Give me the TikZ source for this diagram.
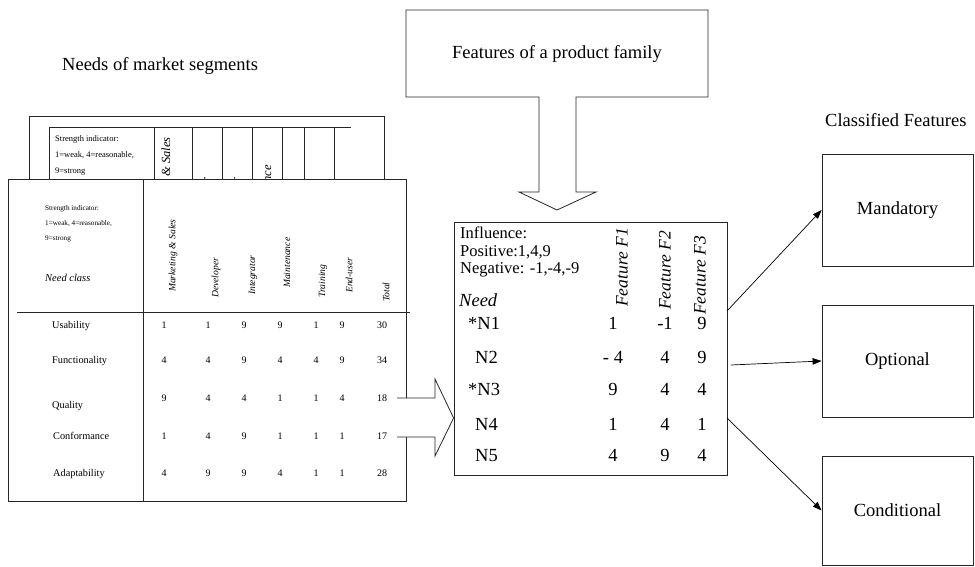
\documentclass[tikz,border=0pt]{standalone}
\usepackage{fontspec}
\setmainfont{Liberation Serif}
\usetikzlibrary{arrows.meta}
\newcommand\fz[1]{\fontsize{#1}{#1}\selectfont}
% one row of the needs table: row tag, y, seven values
\newcommand\needrow[9]{%
  \foreach \cx/\cv [count=\ci] in {164/#3,208/#4,244/#5,280/#6,316/#7,342/#8,382/#9}
    \node[num] (#1-\ci) at (\cx,#2) {\cv};}
% one row of the influence table: row tag, y, label, label x, three values
\newcommand\infrow[7]{%
  \node[big, anchor=west] (#1) at (#4,#2) {#3};
  \foreach \cx/\cv [count=\ci] in {613/#5,665/#6,702/#7}
    \node[big] (#1-\ci) at (\cx,#2) {\cv};}
\begin{document}
\begin{tikzpicture}[x=1pt,y=-1pt,
  ln/.style={draw=black!85, line width=0.8pt},
  tx/.style={inner sep=0pt, text height=0.66em, text depth=0pt},
  num/.style={tx, font=\fz{10}},
  rowlab/.style={tx, anchor=west, font=\fz{10.3}},
  vhead/.style={inner sep=0pt, rotate=90, anchor=west, font=\fz{9.6}\itshape},
  bhead/.style={inner sep=0pt, rotate=90, anchor=east, font=\fz{12.5}\itshape},
  big/.style={tx, font=\fz{18.5}},
  title/.style={inner sep=0pt, anchor=base west, font=\fz{18.5}},
  box/.style={ln, minimum width=151pt, minimum height=112pt, font=\fz{18.5}},
  link/.style={draw=black, line width=0.7pt, -{Triangle[length=9pt,width=6.5pt]}}]
\useasboundingbox (0,0) rectangle (975,567);

% ---- titles
\node[title] (tneeds) at (62,71) {Needs of market segments};
\node[title] (tclass) at (825,127) {Classified Features};

% ---- back sheet of the needs table
\draw[ln] (29,240) -- (29,116) -- (384,116) -- (384,240);
\draw[ln] (49,127) -- (351,127);
\foreach \gx in {49,154,192,222,252,282,304,334}
  \draw[ln] (\gx,127) -- (\gx,230);
\node[inner sep=0pt, anchor=west, font=\fz{8.5}] (bs1) at (55,139) {Strength indicator:};
\node[inner sep=0pt, anchor=west, font=\fz{8.5}] (bs2) at (55,155) {1=weak, 4=reasonable,};
\node[inner sep=0pt, anchor=west, font=\fz{8.5}] (bs3) at (55,172) {9=strong};
\node[bhead] (bh1) at (167,137) {Marketing \& Sales};
\node[bhead] (bh2) at (207,177.5) {Developer};
\node[bhead] (bh3) at (237,177.5) {Integrator};
\node[bhead] (bh4) at (267,165) {Maintenance};
\node[bhead] (bh5) at (293,188) {Training};
\node[bhead] (bh6) at (319,188) {End-user};

% ---- front sheet of the needs table
\filldraw[ln, fill=white] (8,179) rectangle (406,501);
\draw[ln] (143,179) -- (143,501);
\draw[ln] (17,312) -- (410,312);
\node[inner sep=0pt, anchor=west, font=\fz{7.2}] (fs1) at (45,209) {Strength indicator:};
\node[inner sep=0pt, anchor=west, font=\fz{7.2}] (fs2) at (45,224) {1=weak, 4=reasonable,};
\node[inner sep=0pt, anchor=west, font=\fz{7.2}] (fs3) at (45,239) {9=strong};
\node[inner sep=0pt, anchor=west, font=\fz{10.5}\itshape] (needclass) at (45,278) {Need class};
\node[vhead] (h1) at (173,292) {Marketing \& Sales};
\node[vhead] (h2) at (216,298) {Developer};
\node[vhead] (h3) at (253,295) {Integrator};
\node[vhead] (h4) at (287,288) {Maintenance};
\node[vhead] (h5) at (323,298) {Training};
\node[vhead] (h6) at (349,293) {End-user};
\node[vhead] (h7) at (386,302) {Total};

\node[rowlab] (usab) at (52,325) {Usability};
\needrow{u}{325}{1}{1}{9}{9}{1}{9}{30}
\node[rowlab] (func) at (52,360) {Functionality};
\needrow{f}{360}{4}{4}{9}{4}{4}{9}{34}
\node[rowlab] (qual) at (52,405) {Quality};
\needrow{q}{398}{9}{4}{4}{1}{1}{4}{18}
\node[rowlab] (conf) at (53,436) {Conformance};
\needrow{c}{436}{1}{4}{9}{1}{1}{1}{17}
\node[rowlab] (adap) at (53,473) {Adaptability};
\needrow{a}{473}{4}{9}{9}{4}{1}{1}{28}

% ---- influence table
\node[ln, minimum width=273pt, minimum height=253pt] (inf) at (590.5,348.5) {};
\node[inner sep=0pt, anchor=west, font=\fz{16.5}] (i1) at (460,233) {Influence:};
\node[inner sep=0pt, anchor=west, font=\fz{16.5}] (i2) at (460,252) {Positive:1,4,9};
\node[inner sep=0pt, anchor=west, font=\fz{16.5}] (i3) at (460,270) {Negative: -1,-4,-9};
\node[inner sep=0pt, anchor=west, font=\fz{18.5}\itshape] (ineed) at (459,300) {Need};
\node[inner sep=0pt, rotate=90, anchor=west, font=\fz{17.5}\itshape] (ff1) at (622,307) {Feature F1};
\node[inner sep=0pt, rotate=90, anchor=west, font=\fz{17.5}\itshape] (ff2) at (665,310) {Feature F2};
\node[inner sep=0pt, rotate=90, anchor=west, font=\fz{17.5}\itshape] (ff3) at (700,315) {Feature F3};
\infrow{n1}{326}{*N1}{468}{1}{-1}{9}
\infrow{n2}{360}{N2}{475}{- 4}{4}{9}
\infrow{n3}{392}{*N3}{468}{9}{4}{4}
\infrow{n4}{427}{N4}{475}{1}{4}{1}
\infrow{n5}{458}{N5}{475}{4}{9}{4}

% ---- product family box with its broad down arrow
\draw[ln, line join=miter] (406,10) -- (708,10) -- (708,97) -- (576,97) -- (576,192)
  -- (596,192) -- (557,210) -- (519,192) -- (539,192) -- (539,97) -- (406,97) -- cycle;
\node[title] (tfeat) at (452,59) {Features of a product family};

% ---- broad arrow from the needs table into the influence table
\fill[white] (397,398) -- (435,398) -- (435,379) -- (453,418) -- (435,456) -- (435,437) -- (397,437) -- cycle;
\draw[ln, line join=miter] (397,398) -- (435,398) -- (435,379) -- (inf.west |- 0,418)
  -- (435,456) -- (435,437) -- (397,437);

% ---- classes
\node[box] (mand) at (897.5,210) {Mandatory};
\node[box] (opt) at (897.5,361) {Optional};
\node[box, minimum height=109pt] (cond) at (897.5,510.5) {Conditional};

\coordinate (o1) at (727,311);
\coordinate (o2) at (731,365);
\coordinate (o3) at (727,418);
\draw[link] (o1) -- (mand.west);
\draw[link] (o2) -- (opt.west);
\draw[link] (o3) -- (cond.west);
\end{tikzpicture}
\end{document}
